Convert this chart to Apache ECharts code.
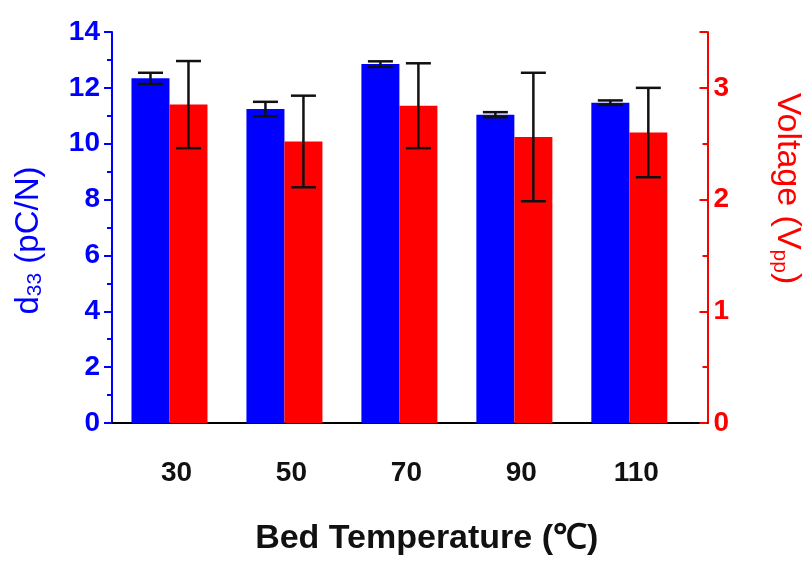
<!DOCTYPE html>
<html>
<head>
<meta charset="utf-8">
<script src="https://cdn.jsdelivr.net/npm/echarts@6/dist/echarts.min.js"></script>
<style>html,body{margin:0;padding:0;background:#fff}#c{width:812px;height:563px}</style>
</head>
<body>
<div id="c"></div>
<script>
const temperatures = [30, 50, 70, 90, 110];
const d33 = [12.34, 11.24, 12.85, 11.04, 11.47];
const d33Err = [0.20, 0.26, 0.10, 0.09, 0.08];
const voltage = [2.85, 2.52, 2.84, 2.56, 2.60];
const voltageErr = [0.39, 0.41, 0.38, 0.575, 0.40];
const leftTicks = [0, 2, 4, 6, 8, 10, 12, 14];
const rightTicks = [0, 1, 2, 3];

const FONT = "'Liberation Sans', Arial, sans-serif";
const BAR_W = 38;

function errRenderer(offset) {
  return function (params, api) {
    const x = api.value(0), v = api.value(1), e = api.value(2);
    const top = api.coord([x, v + e]);
    const bot = api.coord([x, v - e]);
    const cx = top[0] + offset;
    const cap = 12.5;
    const style = { stroke: '#111', lineWidth: 2.5 };
    return {
      type: 'group',
      children: [
        { type: 'line', shape: { x1: cx, y1: top[1], x2: cx, y2: bot[1] }, style },
        { type: 'line', shape: { x1: cx - cap, y1: top[1], x2: cx + cap, y2: top[1] }, style },
        { type: 'line', shape: { x1: cx - cap, y1: bot[1], x2: cx + cap, y2: bot[1] }, style }
      ]
    };
  };
}

const chart = echarts.init(document.getElementById('c'), null, { renderer: 'canvas' });
chart.setOption({
  animation: false,
  backgroundColor: '#fff',
  textStyle: { fontFamily: FONT },
  grid: { left: 112, right: 100, top: 32, bottom: 140 },
  xAxis: {
    type: 'value',
    min: 20,
    max: 123.6,
    splitLine: { show: false },
    axisLine: { show: true, lineStyle: { color: '#000', width: 2 } },
    axisTick: { show: false },
    axisLabel: {
      customValues: temperatures,
      margin: 36,
      fontSize: 28,
      fontWeight: 'bold',
      color: '#111',
      fontFamily: FONT,
      padding: [0, 0, 0, 14]
    },
    name: 'Bed Temperature (℃)',
    nameLocation: 'middle',
    nameGap: 99,
    nameTextStyle: { fontSize: 34, fontWeight: 'bold', color: '#111', fontFamily: FONT, padding: [0, 0, 0, 34] }
  },
  yAxis: [
    {
      type: 'value',
      min: leftTicks[0],
      max: leftTicks[leftTicks.length - 1],
      interval: 2,
      position: 'left',
      splitLine: { show: false },
      axisLine: { show: true, lineStyle: { color: '#0000ff', width: 2 } },
      axisTick: { show: true, inside: false, length: 8, lineStyle: { color: '#0000ff', width: 2 } },
      minorTick: { show: true, splitNumber: 2, length: 5, lineStyle: { color: '#0000ff', width: 2 } },
      axisLabel: { margin: 12, fontSize: 28, fontWeight: 'bold', color: '#0000ff', fontFamily: FONT },
      name: 'd{sub|33} (pC/N)',
      nameLocation: 'middle',
      nameGap: 66,
      nameRotate: 90,
      nameTextStyle: {
        fontSize: 33, color: '#0000ff', fontFamily: FONT, padding: [0, 26, 0, 0],
        rich: { sub: { fontSize: 21, color: '#0000ff', fontFamily: FONT, verticalAlign: 'bottom', padding: [14, 0, 0, 0] } }
      }
    },
    {
      type: 'value',
      min: rightTicks[0],
      max: 3.5,
      interval: 1,
      position: 'right',
      splitLine: { show: false },
      axisLine: { show: true, lineStyle: { color: '#ff0000', width: 2 } },
      axisTick: { show: true, inside: true, length: 8, lineStyle: { color: '#ff0000', width: 2 } },
      minorTick: { show: true, splitNumber: 2, length: 5, lineStyle: { color: '#ff0000', width: 2 } },
      axisLabel: { margin: 6, fontSize: 28, fontWeight: 'bold', color: '#ff0000', fontFamily: FONT, showMaxLabel: false },
      name: 'Voltage (V{sub|pp})',
      nameLocation: 'middle',
      nameGap: 62,
      nameRotate: -90,
      nameTextStyle: {
        fontSize: 34, color: '#ff0000', fontFamily: FONT, padding: [0, 78, 0, 0],
        rich: { sub: { fontSize: 21, color: '#ff0000', fontFamily: FONT, verticalAlign: 'bottom', padding: [14, 0, 0, 0] } }
      }
    }
  ],
  series: [
    {
      type: 'bar',
      name: 'd33',
      yAxisIndex: 0,
      barWidth: BAR_W,
      barGap: '0%',
      itemStyle: { color: '#0000ff' },
      data: temperatures.map((t, i) => [t, d33[i]])
    },
    {
      type: 'bar',
      name: 'Voltage',
      yAxisIndex: 1,
      barWidth: BAR_W,
      barGap: '0%',
      itemStyle: { color: '#ff0000' },
      data: temperatures.map((t, i) => [t, voltage[i]])
    },
    {
      type: 'custom',
      yAxisIndex: 0,
      z: 10,
      renderItem: errRenderer(-BAR_W / 2),
      data: temperatures.map((t, i) => [t, d33[i], d33Err[i]])
    },
    {
      type: 'custom',
      yAxisIndex: 1,
      z: 10,
      renderItem: errRenderer(BAR_W / 2),
      data: temperatures.map((t, i) => [t, voltage[i], voltageErr[i]])
    }
  ]
});
</script>
</body>
</html>
